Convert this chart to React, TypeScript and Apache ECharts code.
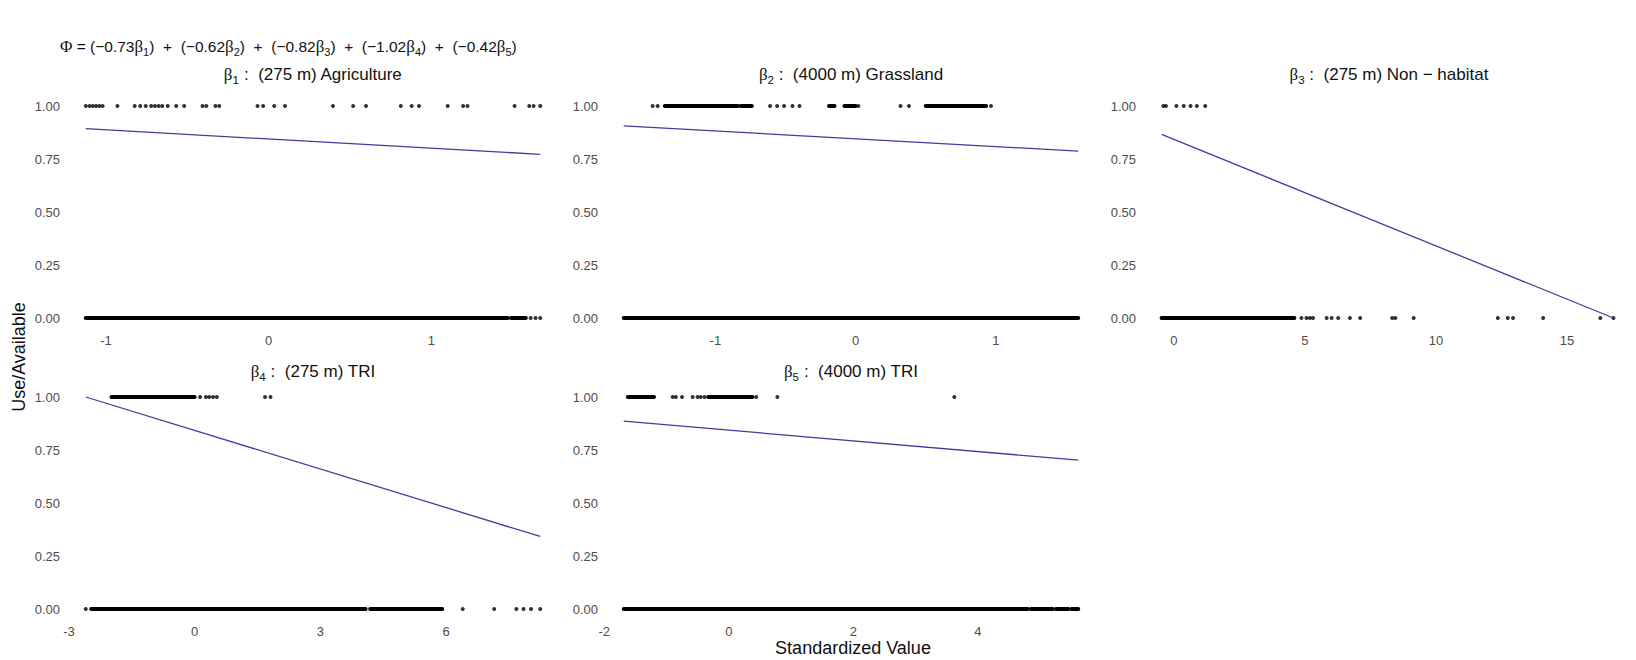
import { useEffect, useRef } from 'react';
import * as echarts from 'echarts';

// ---------------- data ----------------
const yTicks = [0, 0.25, 0.5, 0.75, 1];

// Panel 1: beta1 (275 m) Agriculture
const p1Ticks = [-1, 0, 1];
const p1UsedPts = [-1.123, -1.1, -1.08, -1.06, -1.04, -1.02, -0.929, -0.823, -0.789, -0.755, -0.722, -0.699, -0.676, -0.654, -0.62, -0.568, -0.519, -0.406, -0.383, -0.327, -0.304, -0.068, -0.034, 0.034, 0.101, 0.395, 0.519, 0.598, 0.812, 0.879, 0.924, 1.1, 1.195, 1.222, 1.511, 1.601, 1.628, 1.669];
const p1UsedRuns: number[][] = [];
const p1AvailPts = [1.61, 1.64, 1.669];
const p1AvailRuns = [[-1.124, 1.47], [1.49, 1.58]];
const p1Fit = [[-1.124, 0.893], [1.669, 0.772]];

// Panel 2: beta2 (4000 m) Grassland
const p2Ticks = [-1, 0, 1];
const p2UsedPts = [-1.447, -1.411, -0.61, -0.56, -0.51, -0.45, -0.4, 0.02, 0.32, 0.38, 0.965];
const p2UsedRuns = [[-1.36, -0.84], [-0.82, -0.74], [-0.19, -0.15], [-0.08, 0.0], [0.5, 0.93]];
const p2AvailPts: number[] = [];
const p2AvailRuns = [[-1.653, 1.587]];
const p2Fit = [[-1.653, 0.906], [1.587, 0.787]];

// Panel 3: beta3 (275 m) Non-habitat
const p3Ticks = [0, 5, 10, 15];
const p3UsedPts = [-0.4, -0.3, 0.1, 0.38, 0.64, 0.88, 1.2];
const p3UsedRuns: number[][] = [];
const p3AvailPts = [4.87, 5.06, 5.19, 5.31, 5.83, 6.02, 6.27, 6.72, 7.11, 8.33, 8.45, 9.15, 12.36, 12.74, 12.94, 14.09, 16.27, 16.77];
const p3AvailRuns = [[-0.466, 4.6]];
const p3Fit = [[-0.466, 0.866], [16.77, 0.0]];

// Panel 4: beta4 (275 m) TRI
const p4Ticks = [-3, 0, 3, 6];
const p4UsedPts = [0.13, 0.27, 0.35, 0.44, 0.53, 1.68, 1.81];
const p4UsedRuns = [[-1.985, 0.0]];
const p4AvailPts = [-2.6, 6.4, 7.15, 7.68, 7.85, 8.03, 8.25];
const p4AvailRuns = [[-2.47, 4.08], [4.19, 5.91]];
const p4Fit = [[-2.6, 1.0], [8.25, 0.342]];

// Panel 5: beta5 (4000 m) TRI
const p5Ticks = [-2, 0, 2, 4];
const p5UsedPts = [-0.9, -0.85, -0.75, -0.58, -0.5, -0.45, -0.39, 0.44, 0.78, 3.62];
const p5UsedRuns = [[-1.62, -1.2], [-0.33, 0.38]];
const p5AvailPts: number[] = [];
const p5AvailRuns = [[-1.686, 4.8], [4.85, 5.2], [5.25, 5.45], [5.5, 5.61]];
const p5Fit = [[-1.686, 0.886], [5.61, 0.702]];

const panelSubs = ['1', '2', '3', '4', '5'];
const panelLabels = ['(275 m) Agriculture', '(4000 m) Grassland', '(275 m) Non \u2212 habitat', '(275 m) TRI', '(4000 m) TRI'];
const coefficients = ['0.73', '0.62', '0.82', '1.02', '0.42'];

// ---------------- layout ----------------
const COL_LEFT = [63, 601, 1139];
const ROW_TOP = [95.4, 386.4];
const PANEL_W = 500;
const PANEL_H = 233.2;
const SANS = 'Liberation Sans, Arial, sans-serif';
const SERIF = 'Liberation Serif, DejaVu Serif, serif';
const FIT_COLOR = '#3f3f9c';

const panels = [
  { ticks: p1Ticks, usedPts: p1UsedPts, usedRuns: p1UsedRuns, availPts: p1AvailPts, availRuns: p1AvailRuns, fit: p1Fit, col: 0, row: 0 },
  { ticks: p2Ticks, usedPts: p2UsedPts, usedRuns: p2UsedRuns, availPts: p2AvailPts, availRuns: p2AvailRuns, fit: p2Fit, col: 1, row: 0 },
  { ticks: p3Ticks, usedPts: p3UsedPts, usedRuns: p3UsedRuns, availPts: p3AvailPts, availRuns: p3AvailRuns, fit: p3Fit, col: 2, row: 0 },
  { ticks: p4Ticks, usedPts: p4UsedPts, usedRuns: p4UsedRuns, availPts: p4AvailPts, availRuns: p4AvailRuns, fit: p4Fit, col: 0, row: 1 },
  { ticks: p5Ticks, usedPts: p5UsedPts, usedRuns: p5UsedRuns, availPts: p5AvailPts, availRuns: p5AvailRuns, fit: p5Fit, col: 1, row: 1 },
];

function buildOption() {
  const grid: any[] = [];
  const xAxis: any[] = [];
  const yAxis: any[] = [];
  const series: any[] = [];
  const graphic: any[] = [];

  panels.forEach((p, i) => {
    const xs: number[] = [
      ...p.usedPts, ...p.availPts,
      ...p.usedRuns.flat(), ...p.availRuns.flat(),
      ...p.fit.map((d) => d[0]),
    ];
    const lo = Math.min(...xs);
    const hi = Math.max(...xs);
    const pad = (hi - lo) * 0.05;
    grid.push({ left: COL_LEFT[p.col], top: ROW_TOP[p.row], width: PANEL_W, height: PANEL_H });
    xAxis.push({
      type: 'value', gridIndex: i, min: lo - pad, max: hi + pad,
      axisLine: { show: false }, axisTick: { show: false }, splitLine: { show: false },
      axisLabel: { customValues: p.ticks, margin: 5, color: '#4d4d4d', fontSize: 13, fontFamily: SANS, formatter: (v: number) => String(v) },
    });
    yAxis.push({
      type: 'value', gridIndex: i, min: -0.05, max: 1.05,
      axisLine: { show: false }, axisTick: { show: false }, splitLine: { show: false },
      axisLabel: { customValues: yTicks, margin: 3, color: '#4d4d4d', fontSize: 13, fontFamily: SANS, formatter: (v: number) => v.toFixed(2) },
    });
    series.push({
      type: 'lines', coordinateSystem: 'cartesian2d', xAxisIndex: i, yAxisIndex: i,
      data: [
        ...p.usedRuns.map((r) => ({ coords: [[r[0], 1], [r[1], 1]] })),
        ...p.availRuns.map((r) => ({ coords: [[r[0], 0], [r[1], 0]] })),
      ],
      lineStyle: { color: '#000', width: 4, opacity: 1, cap: 'round' },
      silent: true,
    });
    series.push({
      type: 'scatter', xAxisIndex: i, yAxisIndex: i, symbol: 'circle', symbolSize: 4,
      data: [...p.usedPts.map((x) => [x, 1]), ...p.availPts.map((x) => [x, 0])],
      itemStyle: { color: '#000' },
    });
    series.push({
      type: 'line', xAxisIndex: i, yAxisIndex: i, symbol: 'none', z: 5,
      data: p.fit, lineStyle: { color: FIT_COLOR, width: 1.3 },
    });
    graphic.push({
      type: 'text',
      x: COL_LEFT[p.col] + PANEL_W / 2,
      y: p.row === 0 ? 74 : 371,
      style: {
        text: `{g|\u03b2}{s|${panelSubs[i]}}{t| :  ${panelLabels[i]}}`,
        align: 'center', verticalAlign: 'middle',
        rich: {
          g: { fontFamily: SERIF, fontSize: 17, lineHeight: 24, fill: '#111' },
          s: { fontFamily: SANS, fontSize: 11.5, lineHeight: 14, verticalAlign: 'bottom', fill: '#111' },
          t: { fontFamily: SANS, fontSize: 17, lineHeight: 24, fill: '#111' },
        },
      },
    });
  });

  // Formula
  let formula = '{g|\u03a6}{t| = }';
  coefficients.forEach((c, k) => {
    formula += `{t|(\u2212${c}}{g|\u03b2}{s|${k + 1}}{t|)}`;
    if (k < coefficients.length - 1) formula += '{t|  +  }';
  });
  graphic.push({
    type: 'text', x: 60, y: 46,
    style: {
      text: formula, align: 'left', verticalAlign: 'middle',
      rich: {
        g: { fontFamily: SERIF, fontSize: 17, lineHeight: 22, fill: '#111' },
        s: { fontFamily: SANS, fontSize: 11, lineHeight: 13, verticalAlign: 'bottom', fill: '#111' },
        t: { fontFamily: SANS, fontSize: 15.5, lineHeight: 22, fill: '#111' },
      },
    },
  });
  graphic.push({
    type: 'text', x: 853, y: 648,
    style: { text: 'Standardized Value', align: 'center', verticalAlign: 'middle', fontFamily: SANS, fontSize: 18, fill: '#111' },
  });
  graphic.push({
    type: 'text', x: 19, y: 357, rotation: Math.PI / 2,
    style: { text: 'Use/Available', align: 'center', verticalAlign: 'middle', fontFamily: SANS, fontSize: 18, fill: '#111' },
  });

  return { animation: false, backgroundColor: '#ffffff', grid, xAxis, yAxis, series, graphic };
}

export default function App() {
  const ref = useRef<HTMLDivElement>(null);
  useEffect(() => {
    if (!ref.current) return;
    const chart = echarts.init(ref.current, null, { renderer: 'svg' });
    chart.setOption(buildOption() as any);
    return () => chart.dispose();
  }, []);
  return <div ref={ref} style={{ position: 'absolute', left: 0, top: 0, width: 1636, height: 660 }} />;
}
